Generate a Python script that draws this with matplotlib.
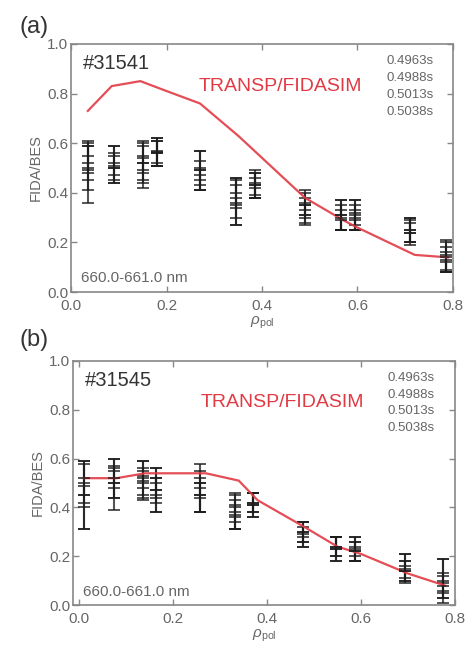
import matplotlib
matplotlib.use("Agg")
import matplotlib.pyplot as plt
import numpy as np

plt.rcParams['font.family'] = ['Liberation Sans', 'DejaVu Sans']
plt.rcParams['mathtext.fontset'] = 'custom'
plt.rcParams['mathtext.rm'] = 'Liberation Sans'
plt.rcParams['mathtext.it'] = 'Liberation Sans:italic'

times = ['0.4963s', '0.4988s', '0.5013s', '0.5038s']

# shot 31541
rho_a = [0.035, 0.09, 0.15, 0.18, 0.27, 0.345, 0.385, 0.49, 0.565, 0.595, 0.71, 0.785]
val_a = [
    [0.52, 0.52, 0.55, 0.565, 0.49, 0.36, 0.43, 0.35, 0.31, 0.31, 0.25, 0.14],
    [0.48, 0.50, 0.52, 0.56, 0.47, 0.38, 0.42, 0.33, 0.30, 0.30, 0.24, 0.13],
    [0.55, 0.55, 0.48, 0.57, 0.50, 0.35, 0.44, 0.36, 0.29, 0.32, 0.25, 0.15],
    [0.50, 0.47, 0.52, 0.56, 0.45, 0.40, 0.43, 0.31, 0.31, 0.29, 0.24, 0.12],
]
err_a = [
    [0.07, 0.07, 0.06, 0.055, 0.08, 0.09, 0.05, 0.05, 0.06, 0.06, 0.05, 0.06],
    [0.12, 0.06, 0.08, 0.05, 0.06, 0.08, 0.04, 0.05, 0.05, 0.05, 0.05, 0.05],
    [0.06, 0.04, 0.06, 0.05, 0.07, 0.08, 0.05, 0.05, 0.04, 0.05, 0.05, 0.06],
    [0.09, 0.03, 0.07, 0.05, 0.04, 0.06, 0.05, 0.04, 0.06, 0.04, 0.04, 0.04],
]
sim_rho_a = [0.035, 0.085, 0.145, 0.2, 0.27, 0.35, 0.49, 0.57, 0.6, 0.72, 0.79]
sim_a = [0.73, 0.83, 0.85, 0.81, 0.76, 0.63, 0.38, 0.29, 0.26, 0.15, 0.14]

# shot 31545
rho_b = [0.01, 0.075, 0.135, 0.163, 0.258, 0.333, 0.37, 0.477, 0.548, 0.587, 0.693, 0.775]
val_b = [
    [0.52, 0.50, 0.52, 0.47, 0.48, 0.38, 0.41, 0.30, 0.23, 0.22, 0.15, 0.10],
    [0.45, 0.52, 0.50, 0.45, 0.45, 0.37, 0.42, 0.29, 0.24, 0.23, 0.14, 0.08],
    [0.50, 0.48, 0.48, 0.50, 0.50, 0.40, 0.41, 0.28, 0.23, 0.24, 0.16, 0.12],
    [0.40, 0.55, 0.55, 0.47, 0.44, 0.36, 0.42, 0.30, 0.24, 0.22, 0.14, 0.06],
]
err_b = [
    [0.07, 0.06, 0.07, 0.09, 0.10, 0.07, 0.05, 0.04, 0.05, 0.04, 0.06, 0.09],
    [0.14, 0.08, 0.06, 0.07, 0.07, 0.06, 0.04, 0.05, 0.04, 0.05, 0.04, 0.05],
    [0.08, 0.09, 0.05, 0.06, 0.05, 0.06, 0.05, 0.04, 0.05, 0.04, 0.05, 0.07],
    [0.09, 0.05, 0.04, 0.05, 0.06, 0.05, 0.04, 0.04, 0.04, 0.04, 0.04, 0.03],
]
sim_rho_b = [0.01, 0.08, 0.14, 0.27, 0.34, 0.38, 0.48, 0.55, 0.6, 0.7, 0.78]
sim_b = [0.52, 0.52, 0.54, 0.54, 0.51, 0.43, 0.32, 0.24, 0.21, 0.13, 0.08]

gray = '#666666'
red = '#e23a44'

fig = plt.figure(figsize=(4.65, 6.55), dpi=100)
ax_a = fig.add_axes([0.153, 0.554, 0.821, 0.379])
ax_b = fig.add_axes([0.157, 0.076, 0.821, 0.373])

panels = [
    (ax_a, '(a)', 0.959, '#31541', rho_a, val_a, err_a, sim_rho_a, sim_a, (0.0, 0.8)),
    (ax_b, '(b)', 0.481, '#31545', rho_b, val_b, err_b, sim_rho_b, sim_b, (-0.013, 0.8)),
]

for ax, tag, ty, shot, rho, vals, errs, srho, sim, xl in panels:
    for v, e in zip(vals, errs):
        ax.errorbar(rho, v, yerr=e, fmt='_', color='#1c1c1c', ms=9, mew=1.4,
                    ecolor='#1c1c1c', elinewidth=1.5, capsize=4.5, capthick=1.4,
                    alpha=0.75)
    ax.plot(srho, sim, color=red, lw=1.6, alpha=0.9)
    ax.set_xlim(*xl)
    ax.set_ylim(0, 1.0)
    ax.set_xticks([0.0, 0.2, 0.4, 0.6, 0.8])
    ax.set_yticks([0.0, 0.2, 0.4, 0.6, 0.8, 1.0])
    ax.set_xticklabels(['0.0', '0.2', '0.4', '0.6', '0.8'])
    ax.set_yticklabels(['0.0', '0.2', '0.4', '0.6', '0.8', '1.0'])
    ax.tick_params(direction='in', top=True, right=True, length=4, width=1,
                   color='#888888', labelcolor=gray, labelsize=11)
    ax.tick_params(axis='x', pad=5)
    ax.tick_params(axis='y', pad=2)
    for s in ax.spines.values():
        s.set_color('#888888')
        s.set_linewidth(1.2)
    ax.set_ylabel('FIDA/BES', color=gray, fontsize=10.5, labelpad=3)
    ax.set_xlabel(r'$\rho_{\rm pol}$', color=gray, fontsize=11, labelpad=1)
    ax.text(0.03, 0.92, shot, transform=ax.transAxes, fontsize=14.5, color='#333333',
            va='center', ha='left')
    ax.text(0.335, 0.83, 'TRANSP/FIDASIM', transform=ax.transAxes, fontsize=14,
            color=red, va='center', ha='left')
    for i, t in enumerate(times):
        ax.text(0.825, 0.93 - i * 0.068, t, transform=ax.transAxes, fontsize=9.5,
                color=gray, va='center', ha='left')
    ax.text(0.026, 0.055, '660.0-661.0 nm', transform=ax.transAxes, fontsize=11,
            color=gray, va='center', ha='left')
    fig.text(0.043, ty, tag, fontsize=17, color='#333333', va='center', ha='left')

fig.savefig('out.png', dpi=100)
